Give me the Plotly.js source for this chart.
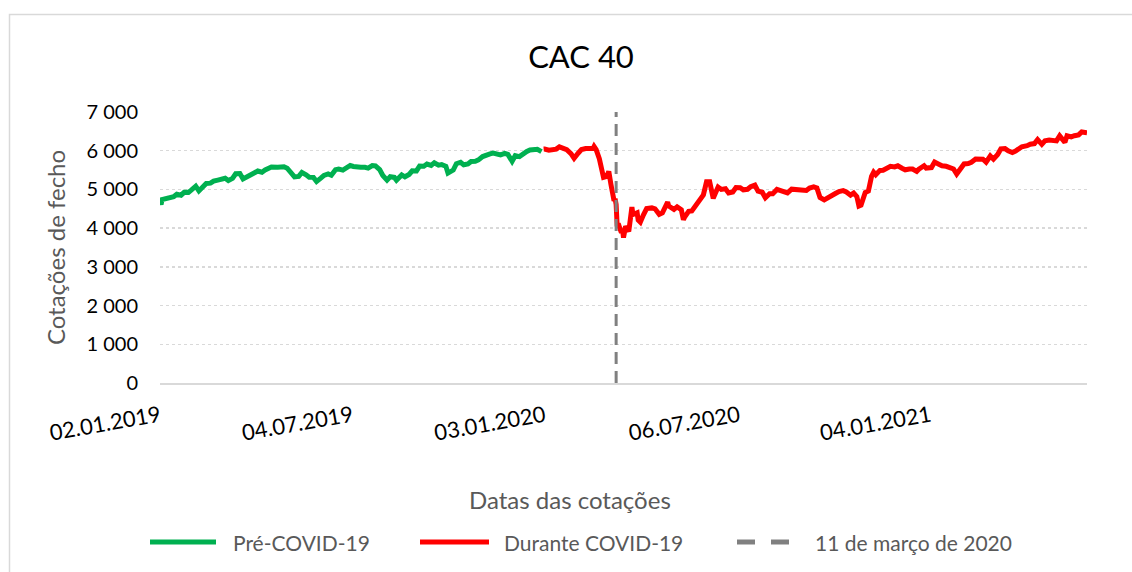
<!DOCTYPE html>
<html>
<head>
<meta charset="utf-8">
<script src="https://cdn.plot.ly/plotly-3.0.1.min.js"></script>
<style>html,body{margin:0;padding:0;background:#fff;}#chart{width:1132px;height:572px;}</style>
</head>
<body>
<div id="chart"></div>
<script>
// ---- Data ----
var preDates = ["2019-01-02","2019-01-03","2019-01-04","2019-01-08","2019-01-11","2019-01-15","2019-01-18","2019-01-22","2019-01-25","2019-01-29",
"2019-02-01","2019-02-05","2019-02-08","2019-02-12","2019-02-15","2019-02-19","2019-02-22","2019-02-26","2019-03-01","2019-03-05",
"2019-03-08","2019-03-12","2019-03-15","2019-03-19","2019-03-22","2019-03-26","2019-03-29","2019-04-02","2019-04-05","2019-04-09",
"2019-04-12","2019-04-16","2019-04-18","2019-04-24","2019-04-26","2019-04-30","2019-05-03","2019-05-07","2019-05-10","2019-05-14",
"2019-05-17","2019-05-21","2019-05-24","2019-05-28","2019-05-31","2019-06-04","2019-06-07","2019-06-11","2019-06-14","2019-06-18",
"2019-06-21","2019-06-25","2019-06-28","2019-07-02","2019-07-05","2019-07-09","2019-07-12","2019-07-16","2019-07-19","2019-07-23",
"2019-07-26","2019-07-30","2019-08-02","2019-08-06","2019-08-09","2019-08-13","2019-08-15","2019-08-20","2019-08-23","2019-08-27",
"2019-08-30","2019-09-03","2019-09-06","2019-09-10","2019-09-13","2019-09-17","2019-09-20","2019-09-24","2019-09-27","2019-10-01",
"2019-10-03","2019-10-08","2019-10-11","2019-10-15","2019-10-18","2019-10-22","2019-10-25","2019-10-29","2019-11-01","2019-11-05",
"2019-11-08","2019-11-12","2019-11-15","2019-11-19","2019-11-22","2019-11-26","2019-11-29","2019-12-03","2019-12-06","2019-12-10",
"2019-12-13","2019-12-17","2019-12-20","2019-12-24","2019-12-27","2019-12-31"];
var preValues = [4689,4611,4737,4773,4782,4810,4875,4851,4925,4924,
4990,5083,4961,5060,5153,5163,5215,5241,5265,5289,
5231,5286,5405,5409,5270,5319,5350,5432,5476,5444,
5502,5559,5580,5571,5569,5586,5548,5396,5327,5337,
5438,5379,5316,5312,5207,5291,5364,5401,5367,5510,
5528,5498,5539,5618,5594,5566,5572,5572,5552,5618,
5610,5512,5359,5241,5327,5310,5237,5374,5326,5386,
5480,5479,5604,5597,5655,5620,5690,5628,5640,5598,
5422,5500,5665,5703,5636,5657,5722,5729,5762,5849,
5890,5918,5939,5920,5894,5930,5905,5727,5871,5847,
5919,5982,6021,6029,6037,5978];

var covDates = ["2020-01-02","2020-01-03","2020-01-07","2020-01-10","2020-01-14","2020-01-17","2020-01-21","2020-01-24","2020-01-28","2020-01-31",
"2020-02-04","2020-02-07","2020-02-11","2020-02-14","2020-02-18","2020-02-19","2020-02-21","2020-02-24","2020-02-25","2020-02-27",
"2020-02-28","2020-03-02","2020-03-04","2020-03-06","2020-03-09","2020-03-10","2020-03-11","2020-03-12","2020-03-13","2020-03-16",
"2020-03-17","2020-03-18","2020-03-19","2020-03-20","2020-03-23","2020-03-24","2020-03-26","2020-03-27","2020-03-31","2020-04-01",
"2020-04-03","2020-04-06","2020-04-09","2020-04-14","2020-04-17","2020-04-21","2020-04-24","2020-04-29","2020-04-30","2020-05-05",
"2020-05-08","2020-05-12","2020-05-14","2020-05-15","2020-05-19","2020-05-22","2020-05-26","2020-05-29","2020-06-02","2020-06-05",
"2020-06-08","2020-06-11","2020-06-12","2020-06-16","2020-06-19","2020-06-23","2020-06-26","2020-06-30","2020-07-03","2020-07-07",
"2020-07-10","2020-07-14","2020-07-17","2020-07-21","2020-07-24","2020-07-28","2020-07-31","2020-08-04","2020-08-07","2020-08-11",
"2020-08-14","2020-08-18","2020-08-21","2020-08-25","2020-08-28","2020-09-01","2020-09-04","2020-09-08","2020-09-11","2020-09-15",
"2020-09-18","2020-09-21","2020-09-25","2020-09-29","2020-10-02","2020-10-06","2020-10-09","2020-10-13","2020-10-16","2020-10-20",
"2020-10-23","2020-10-26","2020-10-28","2020-10-30","2020-11-03","2020-11-06","2020-11-09","2020-11-11","2020-11-13","2020-11-17",
"2020-11-20","2020-11-24","2020-11-27","2020-12-01","2020-12-04","2020-12-08","2020-12-11","2020-12-15","2020-12-18","2020-12-22",
"2020-12-24","2020-12-29","2020-12-31","2021-01-05","2021-01-08","2021-01-12","2021-01-15","2021-01-19","2021-01-22","2021-01-26",
"2021-01-29","2021-02-02","2021-02-05","2021-02-09","2021-02-12","2021-02-16","2021-02-19","2021-02-23","2021-02-26","2021-03-02",
"2021-03-05","2021-03-09","2021-03-12","2021-03-16","2021-03-19","2021-03-23","2021-03-26","2021-03-30","2021-04-01","2021-04-06",
"2021-04-09","2021-04-13","2021-04-16","2021-04-20","2021-04-23","2021-04-27","2021-04-30","2021-05-04","2021-05-07","2021-05-12",
"2021-05-14","2021-05-18","2021-05-21","2021-05-25","2021-05-28","2021-06-01","2021-06-02"];
var covValues = [6042,6044,6012,6037,6041,6100,6046,6025,5925,5806,
5941,6030,6054,6069,6057,6111,6029,5792,5680,5495,
5310,5333,5466,5139,4707,4762,4610,4044,4118,3881,
3991,3754,3855,4049,3914,4243,4543,4351,4396,4208,
4154,4346,4507,4523,4499,4357,4393,4671,4572,4483,
4550,4473,4217,4277,4433,4445,4610,4695,4858,5197,
5199,4816,4815,5062,5001,5017,4910,4936,5049,5044,
4990,5004,5069,5109,4957,4928,4784,4889,4889,4999,
4962,4944,4911,5007,5002,4974,4965,4973,5034,5067,
5039,4793,4730,4804,4824,4901,4946,4970,4935,4853,
4909,4816,4571,4594,4921,4960,5336,5445,5380,5492,
5495,5558,5598,5581,5609,5547,5507,5529,5528,5467,
5522,5611,5551,5564,5706,5651,5611,5598,5559,5528,
5399,5563,5659,5670,5703,5786,5774,5779,5703,5864,
5782,5902,6046,6055,5997,5952,5989,6088,6103,6130,
6169,6184,6288,6165,6258,6275,6269,6253,6385,6216,
6385,6356,6386,6408,6484,6448,6465];

var markerDates = ["2020-03-11","2020-03-11"];
var markerValues = [0, 7000];

var tickDates = ["2019-01-02","2019-07-04","2020-01-03","2020-07-06","2021-01-04"];
var tickLabels = ["02.01.2019","04.07.2019","03.01.2020","06.07.2020","04.01.2021"];
var yTicks = [0,1000,2000,3000,4000,5000,6000,7000];
var yTickLabels = ["0","1 000","2 000","3 000","4 000","5 000","6 000","7 000"];

var seriesNames = ["Pré-COVID-19","Durante COVID-19","11 de março de 2020"];
var seriesColors = ["#00b050","#ff0000","#808080"];
var chartTitle = "CAC 40";
var xTitle = "Datas das cotações";
var yTitle = "Cotações de fecho";

// ---- Layout helpers ----
var W = 1132, H = 572, L = 160, R = 45, T = 112, B = 189;
var pw = W - L - R, ph = H - T - B;
function px2paperX(p){ return (p - L) / pw; }
function px2paperY(p){ return (H - B - p) / ph; }

var FONT = "Lato, 'Open Sans', sans-serif";

var traces = [
  {x: preDates, y: preValues, type: "scatter", mode: "lines", name: seriesNames[0],
   line: {color: seriesColors[0], width: 5}, showlegend: false},
  {x: covDates, y: covValues, type: "scatter", mode: "lines", name: seriesNames[1],
   line: {color: seriesColors[1], width: 5}, showlegend: false},
  {x: markerDates, y: markerValues, type: "scatter", mode: "lines", name: seriesNames[2],
   line: {color: seriesColors[2], width: 3, dash: "12px,7px"}, showlegend: false}
];

// Legend built as shapes + annotations (Excel-style long keys)
var legY = 542;
var legend = [
  {x0: 150, x1: 216, tx: 231, dash: "solid"},
  {x0: 420, x1: 489, tx: 502, dash: "solid"},
  {x0: 737, x1: 789, tx: 813, dash: "dash"}
];
var shapes = [
  {type: "rect", xref: "paper", yref: "paper",
   x0: px2paperX(9.5), x1: px2paperX(1200), y0: px2paperY(700), y1: px2paperY(14.5),
   line: {color: "#d9d9d9", width: 1.5}, fillcolor: "rgba(0,0,0,0)", layer: "below"}
];
var annotations = [];
legend.forEach(function(it, i){
  if (it.dash === "solid") {
    shapes.push({type: "line", xref: "paper", yref: "paper",
      x0: px2paperX(it.x0), x1: px2paperX(it.x1), y0: px2paperY(legY), y1: px2paperY(legY),
      line: {color: seriesColors[i], width: 5}});
  } else {
    shapes.push({type: "line", xref: "paper", yref: "paper",
      x0: px2paperX(737), x1: px2paperX(755), y0: px2paperY(legY), y1: px2paperY(legY),
      line: {color: seriesColors[i], width: 5}});
    shapes.push({type: "line", xref: "paper", yref: "paper",
      x0: px2paperX(771), x1: px2paperX(789), y0: px2paperY(legY), y1: px2paperY(legY),
      line: {color: seriesColors[i], width: 5}});
  }
  annotations.push({xref: "paper", yref: "paper", x: px2paperX(it.tx), y: px2paperY(legY),
    xanchor: "left", yanchor: "middle", showarrow: false, text: seriesNames[i],
    font: {family: FONT, size: 21, color: "#595959"}});
});
// X axis title (Excel places it centred on the whole chart)
annotations.push({xref: "paper", yref: "paper", x: px2paperX(570), y: px2paperY(499),
  xanchor: "center", yanchor: "middle", showarrow: false, text: xTitle,
  font: {family: FONT, size: 24, color: "#595959"}});

var layout = {
  width: W, height: H,
  margin: {l: L, r: R, t: T, b: B, pad: 0},
  paper_bgcolor: "#ffffff", plot_bgcolor: "#ffffff",
  showlegend: false,
  title: {text: chartTitle, x: px2paperX(581), xref: "paper", xanchor: "center", y: 1 - 57/H, yanchor: "middle",
          font: {family: FONT, size: 31, color: "#000000"}},
  xaxis: {
    type: "date", range: ["2019-01-02", "2021-06-02"],
    tickmode: "array", tickvals: tickDates, ticktext: tickLabels, tickangle: -10,
    ticks: "", ticklabelstandoff: 10,
    tickfont: {family: FONT, size: 22, color: "#000000"},
    showgrid: false, zeroline: false,
    showline: true, linecolor: "#d9d9d9", linewidth: 2,
    automargin: false
  },
  yaxis: {
    range: [0, 7000], tickmode: "array", tickvals: yTicks, ticktext: yTickLabels,
    tickfont: {family: FONT, size: 20, color: "#000000"},
    ticks: "", ticklabelstandoff: 21,
    showgrid: true, gridcolor: "#d9d9d9", gridwidth: 1.5, griddash: "dot",
    zeroline: false, showline: false,
    title: {text: yTitle, standoff: 14, font: {family: FONT, size: 24, color: "#595959"}},
    automargin: false
  },
  shapes: shapes,
  annotations: annotations
};

Plotly.newPlot("chart", traces, layout, {displayModeBar: false, staticPlot: true});
</script>
</body>
</html>
